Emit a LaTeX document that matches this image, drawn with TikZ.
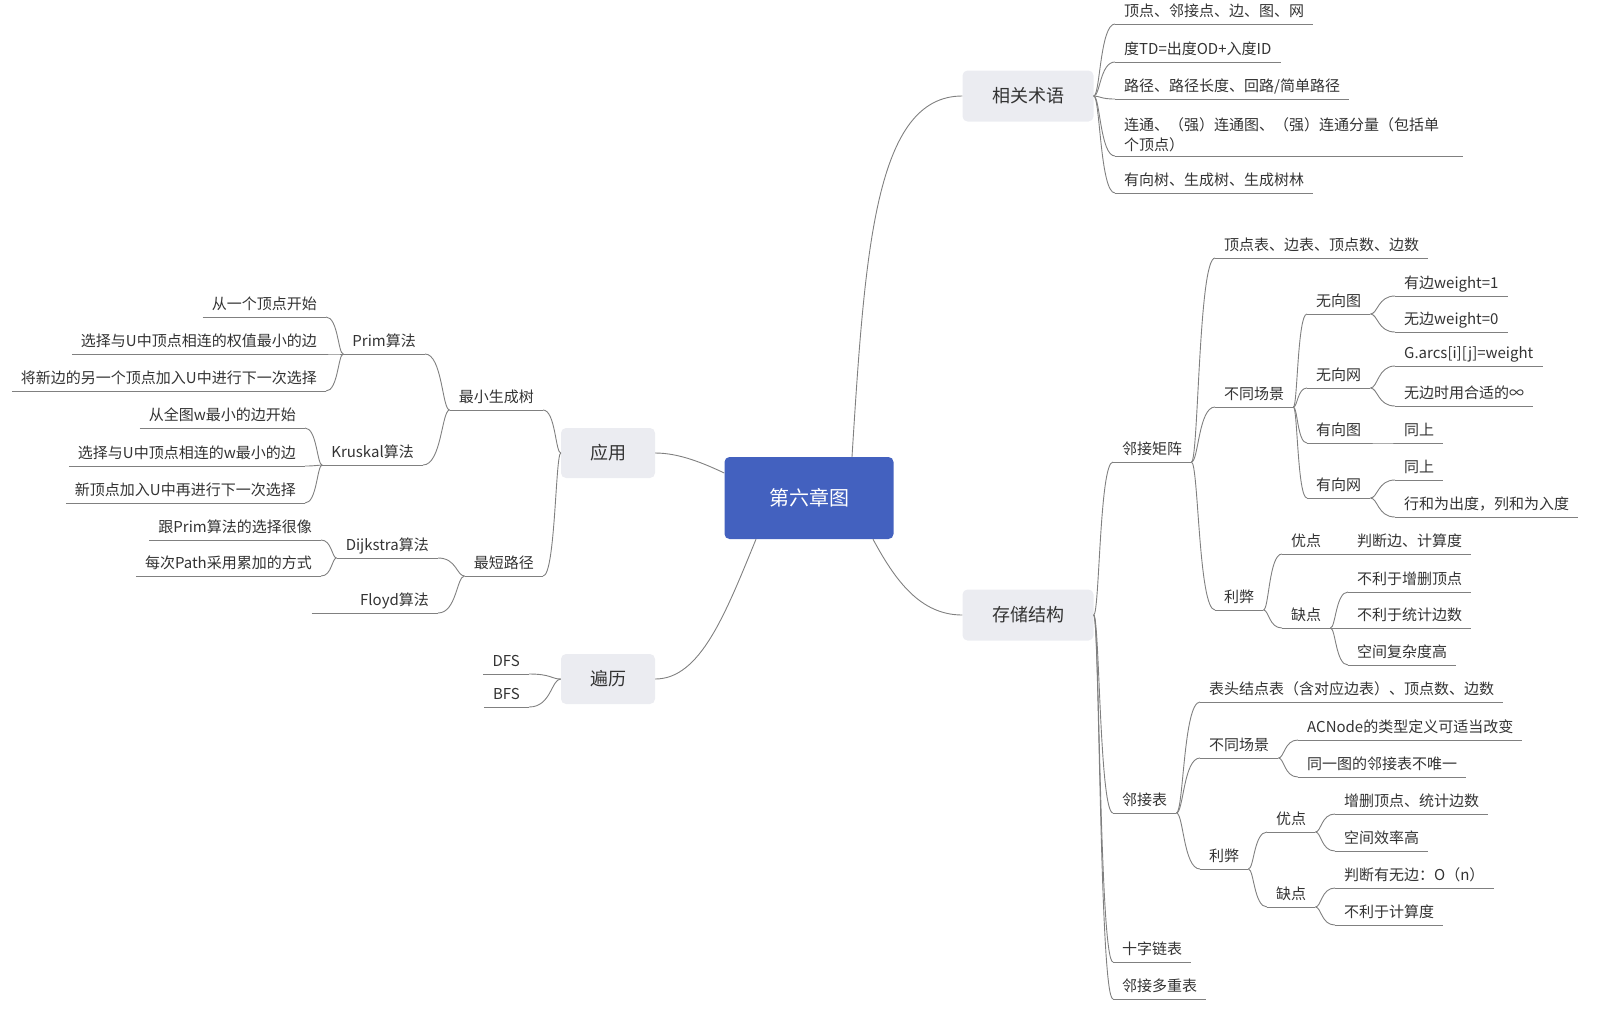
\documentclass[tikz,border=0pt]{standalone}
\usepackage{fontspec}
\setmainfont{Noto Sans CJK SC}
\usetikzlibrary{calc}

\definecolor{linec}{RGB}{128,128,128}
\definecolor{textc}{RGB}{51,51,51}
\definecolor{rootc}{RGB}{67,97,191}
\definecolor{topicc}{RGB}{235,236,241}

\begin{document}
\begin{tikzpicture}[
  x=1pt, y=-1pt,
  font=\fontsize{15}{20}\selectfont, text=textc,
  root/.style={fill=rootc, rounded corners=5pt, minimum width=169pt, minimum height=82pt,
    text=white, font=\fontsize{20}{24}\selectfont},
  topic/.style={fill=topicc, rounded corners=5pt, minimum width=131pt, minimum height=51pt,
    font=\fontsize{18}{22}\selectfont},
  smalltopic/.style={topic, minimum width=94pt, minimum height=50pt},
  item/.style={inner xsep=9pt, inner ysep=4pt, text height=11pt, text depth=3pt, anchor=south west},
  litem/.style={item, anchor=south east},
  uline/.style={draw=linec, line width=0.9pt},
  branch/.style={uline, to path={.. controls ($(\tikztostart)!0.3!(\tikztostart -| \tikztotarget)$)
    and ($(\tikztotarget)!0.7!(\tikztotarget -| \tikztostart)$) .. (\tikztotarget)}}
]
\useasboundingbox (0,0) rectangle (1600,1010);

% --- central topic and the four main branches ---
\node[root] (chap) at (809,498) {第六章图};
\node[topic] (terms) at (1028,96) {相关术语};
\node[topic] (store) at (1028,615) {存储结构};
\node[smalltopic] (apps) at (608,453) {应用};
\node[smalltopic] (trav) at (608,679) {遍历};

\draw[uline] ([xshift=43pt]chap.north) .. controls (865,250) and (875,96) .. (terms.west);
\draw[uline] ([xshift=64pt]chap.south) .. controls (895,580) and (920,615) .. (store.west);
\draw[uline] ([yshift=25pt]chap.west) .. controls (705,464) and (680,453) .. (apps.east);
\draw[uline] ([xshift=-53pt]chap.south) .. controls (725,615) and (700,679) .. (trav.east);

% --- terms ---
\node[item] (t1) at (1115,24) {顶点、邻接点、边、图、网};
\node[item] (t2) at (1115,62) {度TD=出度OD+入度ID};
\node[item] (t3) at (1115,99) {路径、路径长度、回路/简单路径};
\node[anchor=south west, inner xsep=9pt, inner ysep=4pt, text width=330pt, align=left] (t4)
  at (1115,156) {连通、（强）连通图、（强）连通分量（包括单\\个顶点）};
\node[item] (t5) at (1115,193) {有向树、生成树、生成树林};

% --- storage: adjacency matrix ---
\node[item] (mat) at (1113,462) {邻接矩阵};
\node[item] (matinfo) at (1215,258) {顶点表、边表、顶点数、边数};
\node[item] (matcase) at (1215,407) {不同场景};
\node[item] (ug) at (1307,314) {无向图};
\node[item] (ug1) at (1395,296) {有边weight=1};
\node[item] (ug2) at (1395,332) {无边weight=0};
\node[item] (un) at (1307,388) {无向网};
\node[item] (un1) at (1395,366) {G.arcs[i][j]=weight};
\node[item] (un2) at (1395,406) {无边时用合适的∞};
\node[item] (dg) at (1307,443) {有向图};
\node[item] (dg1) at (1395,443) {同上};
\node[item] (dn) at (1307,498) {有向网};
\node[item] (dn1) at (1395,480) {同上};
\node[item] (dn2) at (1395,517) {行和为出度，列和为入度};
\node[item] (matpro) at (1215,610) {利弊};
\node[item] (matgood) at (1282,554) {优点};
\node[item] (matgood1) at (1348,554) {判断边、计算度};
\node[item] (matbad) at (1282,628) {缺点};
\node[item] (matbad1) at (1348,592) {不利于增删顶点};
\node[item] (matbad2) at (1348,628) {不利于统计边数};
\node[item] (matbad3) at (1348,665) {空间复杂度高};

% --- storage: adjacency list and others ---
\node[item] (adj) at (1113,813) {邻接表};
\node[item] (adjinfo) at (1200,702) {表头结点表（含对应边表）、顶点数、边数};
\node[item] (adjcase) at (1200,758) {不同场景};
\node[item] (adjcase1) at (1298,740) {ACNode的类型定义可适当改变};
\node[item] (adjcase2) at (1298,777) {同一图的邻接表不唯一};
\node[item] (adjpro) at (1200,869) {利弊};
\node[item] (adjgood) at (1267,832) {优点};
\node[item] (adjgood1) at (1335,814) {增删顶点、统计边数};
\node[item] (adjgood2) at (1335,851) {空间效率高};
\node[item] (adjbad) at (1267,907) {缺点};
\node[item] (adjbad1) at (1335,888) {判断有无边：O（n）};
\node[item] (adjbad2) at (1335,925) {不利于计算度};
\node[item] (orth) at (1113,962) {十字链表};
\node[item] (multi) at (1113,999) {邻接多重表};

% --- applications ---
\node[litem] (mst) at (543,410) {最小生成树};
\node[litem] (prim) at (425,354) {Prim算法};
\node[litem] (prim1) at (326,317) {从一个顶点开始};
\node[litem] (prim2) at (326,354) {选择与U中顶点相连的权值最小的边};
\node[litem] (prim3) at (326,391) {将新边的另一个顶点加入U中进行下一次选择};
\node[litem] (krus) at (423,465) {Kruskal算法};
\node[litem] (krus1) at (305,428) {从全图w最小的边开始};
\node[litem] (krus2) at (305,466) {选择与U中顶点相连的w最小的边};
\node[litem] (krus3) at (305,503) {新顶点加入U中再进行下一次选择};
\node[litem] (sp) at (543,576) {最短路径};
\node[litem] (dij) at (438,558) {Dijkstra算法};
\node[litem] (dij1) at (321,540) {跟Prim算法的选择很像};
\node[litem] (dij2) at (321,576) {每次Path采用累加的方式};
\node[litem, text width=108pt, align=right] (floyd) at (438,613) {Floyd算法};

% --- traversal ---
\node[litem] (dfs) at (529,674) {DFS};
\node[litem] (bfs) at (529,707) {BFS};

% underlines under every branch label
\foreach \n in {t1,t2,t3,t4,t5,mat,matinfo,matcase,ug,ug1,ug2,un,un1,un2,dg,dg1,dn,dn1,dn2,
    matpro,matgood,matgood1,matbad,matbad1,matbad2,matbad3,adj,adjinfo,adjcase,adjcase1,adjcase2,
    adjpro,adjgood,adjgood1,adjgood2,adjbad,adjbad1,adjbad2,orth,multi,
    mst,prim,prim1,prim2,prim3,krus,krus1,krus2,krus3,sp,dij,dij1,dij2,floyd,dfs,bfs}
  \draw[uline] (\n.south west) -- (\n.south east);

% right side branches
\foreach \c in {t1,t2,t3,t4,t5} \draw[branch] (terms.east) to (\c.south west);
\foreach \c in {mat,adj,orth,multi} \draw[branch] (store.east) to (\c.south west);
\foreach \c in {matinfo,matcase,matpro} \draw[branch] (mat.south east) to (\c.south west);
\foreach \c in {ug,un,dg,dn} \draw[branch] (matcase.south east) to (\c.south west);
\foreach \c in {ug1,ug2} \draw[branch] (ug.south east) to (\c.south west);
\foreach \c in {un1,un2} \draw[branch] (un.south east) to (\c.south west);
\draw[branch] (dg.south east) to (dg1.south west);
\foreach \c in {dn1,dn2} \draw[branch] (dn.south east) to (\c.south west);
\foreach \c in {matgood,matbad} \draw[branch] (matpro.south east) to (\c.south west);
\draw[branch] (matgood.south east) to (matgood1.south west);
\foreach \c in {matbad1,matbad2,matbad3} \draw[branch] (matbad.south east) to (\c.south west);
\foreach \c in {adjinfo,adjcase,adjpro} \draw[branch] (adj.south east) to (\c.south west);
\foreach \c in {adjcase1,adjcase2} \draw[branch] (adjcase.south east) to (\c.south west);
\foreach \c in {adjgood,adjbad} \draw[branch] (adjpro.south east) to (\c.south west);
\foreach \c in {adjgood1,adjgood2} \draw[branch] (adjgood.south east) to (\c.south west);
\foreach \c in {adjbad1,adjbad2} \draw[branch] (adjbad.south east) to (\c.south west);

% left side branches
\foreach \c in {mst,sp} \draw[branch] (apps.west) to (\c.south east);
\foreach \c in {prim,krus} \draw[branch] (mst.south west) to (\c.south east);
\foreach \c in {prim1,prim2,prim3} \draw[branch] (prim.south west) to (\c.south east);
\foreach \c in {krus1,krus2,krus3} \draw[branch] (krus.south west) to (\c.south east);
\foreach \c in {dij,floyd} \draw[branch] (sp.south west) to (\c.south east);
\foreach \c in {dij1,dij2} \draw[branch] (dij.south west) to (\c.south east);
\foreach \c in {dfs,bfs} \draw[branch] (trav.west) to (\c.south east);

\end{tikzpicture}
\end{document}
